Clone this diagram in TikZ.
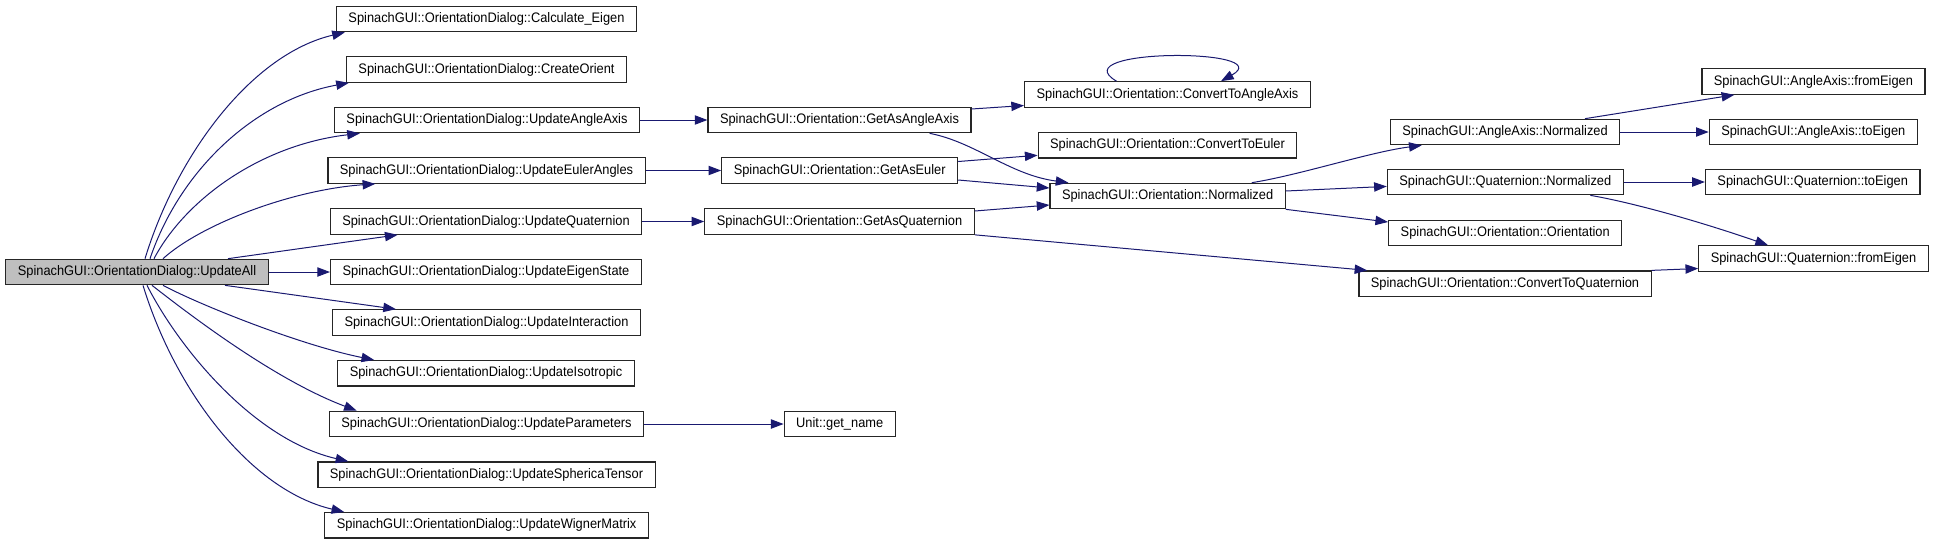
\documentclass[tikz,border=0pt]{standalone}
\usepackage{fontspec}
\setmainfont{Liberation Sans}[FakeStretch=0.93]
\usetikzlibrary{arrows.meta, calc}
\definecolor{edgeblue}{HTML}{191970}

\begin{document}
\begin{tikzpicture}[
        x=0.75pt, y=-0.75pt,
        % Estilos das caixas e setas
        funcbox/.style={rectangle, draw=black!85, line width=0.9pt, fill=white, inner xsep=9pt, inner ysep=0pt, minimum height=19.1pt, font=\fontsize{10.35}{11}\selectfont},
        rootbox/.style={funcbox, fill=black!25},
        callarrow/.style={-{Triangle[length=9.5pt, width=7pt]}, line width=0.75pt, draw=edgeblue}
    ]
    \useasboundingbox (0,0) rectangle (1933,544);

    % Raiz
    \node (updall) [rootbox] at (137,272) {SpinachGUI::OrientationDialog::UpdateAll};

    % Coluna 1: OrientationDialog
    \node (calc) [funcbox] at (486.5,19) {SpinachGUI::OrientationDialog::Calculate\_Eigen};
    \node (create) [funcbox] at (486.5,69.5) {SpinachGUI::OrientationDialog::CreateOrient};
    \node (angleaxis) [funcbox] at (487,120) {SpinachGUI::OrientationDialog::UpdateAngleAxis};
    \node (euler) [funcbox] at (486.5,170.5) {SpinachGUI::OrientationDialog::UpdateEulerAngles};
    \node (quat) [funcbox] at (486,221.5) {SpinachGUI::OrientationDialog::UpdateQuaternion};
    \node (eigenstate) [funcbox] at (486,272) {SpinachGUI::OrientationDialog::UpdateEigenState};
    \node (interaction) [funcbox] at (486.5,322.5) {SpinachGUI::OrientationDialog::UpdateInteraction};
    \node (isotropic) [funcbox] at (486,373.3) {SpinachGUI::OrientationDialog::UpdateIsotropic};
    \node (parameters) [funcbox] at (486.5,424) {SpinachGUI::OrientationDialog::UpdateParameters};
    \node (spherica) [funcbox] at (486.5,474.7) {SpinachGUI::OrientationDialog::UpdateSphericaTensor};
    \node (wigner) [funcbox] at (486.6,525.3) {SpinachGUI::OrientationDialog::UpdateWignerMatrix};

    % Coluna 2
    \node (getaa) [funcbox] at (839.5,120) {SpinachGUI::Orientation::GetAsAngleAxis};
    \node (geteuler) [funcbox] at (839.7,170.5) {SpinachGUI::Orientation::GetAsEuler};
    \node (getquat) [funcbox] at (839.5,221.5) {SpinachGUI::Orientation::GetAsQuaternion};
    \node (getname) [funcbox] at (839.7,424) {Unit::get\_name};

    % Coluna 3
    \node (convaa) [funcbox] at (1167.5,94.5) {SpinachGUI::Orientation::ConvertToAngleAxis};
    \node (conveuler) [funcbox] at (1167.5,145.3) {SpinachGUI::Orientation::ConvertToEuler};
    \node (onorm) [funcbox] at (1167.6,196) {SpinachGUI::Orientation::Normalized};

    % Coluna 4
    \node (aanorm) [funcbox] at (1505,132) {SpinachGUI::AngleAxis::Normalized};
    \node (qnorm) [funcbox] at (1505.3,182) {SpinachGUI::Quaternion::Normalized};
    \node (oorient) [funcbox] at (1505.2,233) {SpinachGUI::Orientation::Orientation};
    \node (convq) [funcbox] at (1505,283.7) {SpinachGUI::Orientation::ConvertToQuaternion};

    % Coluna 5
    \node (aafrom) [funcbox] at (1813.4,81.5) {SpinachGUI::AngleAxis::fromEigen};
    \node (aatoeigen) [funcbox] at (1813.3,132) {SpinachGUI::AngleAxis::toEigen};
    \node (qtoeigen) [funcbox] at (1812.7,182) {SpinachGUI::Quaternion::toEigen};
    \node (qfrom) [funcbox] at (1813.5,258.5) {SpinachGUI::Quaternion::fromEigen};

    % Setas a partir da raiz
    \draw [callarrow] ($(updall.north)+(8,0)$) .. controls (177,154) and (252,54) .. ($(calc.south west)+(9,0)$);
    \draw [callarrow] ($(updall.north)+(13,0)$) .. controls (180,170) and (255,100) .. ($(create.south west)+(3,0)$);
    \draw [callarrow] ($(updall.north)+(17,0)$) .. controls (185,200) and (260,145) .. ($(angleaxis.south west)+(26,0)$);
    \draw [callarrow] ($(updall.north)+(26,0)$) .. controls (200,225) and (290,190) .. ($(euler.south west)+(48,0)$);
    \draw [callarrow] ($(updall.north)+(91,0)$) -- ($(quat.south west)+(68,0)$);
    \draw [callarrow] (updall) -- (eigenstate);
    \draw [callarrow] ($(updall.south)+(88,0)$) -- ($(interaction.north west)+(64,0)$);
    \draw [callarrow] ($(updall.south)+(26,0)$) .. controls (200,305) and (300,345) .. ($(isotropic.north west)+(37,0)$);
    \draw [callarrow] ($(updall.south)+(15,0)$) .. controls (190,315) and (275,380) .. ($(parameters.north west)+(28,0)$);
    \draw [callarrow] ($(updall.south)+(10,0)$) .. controls (180,350) and (255,440) .. ($(spherica.north west)+(31,0)$);
    \draw [callarrow] ($(updall.south)+(6,0)$) .. controls (175,390) and (250,490) .. ($(wigner.north west)+(20,0)$);

    % Setas retas da coluna 1
    \draw [callarrow] (angleaxis) -- (getaa);
    \draw [callarrow] (euler) -- (geteuler);
    \draw [callarrow] (quat) -- (getquat);
    \draw [callarrow] (parameters) -- (getname);

    % Coluna 2 -> Coluna 3
    \draw [callarrow] ($(getaa.east)+(0,-11)$) -- ($(convaa.west)+(0,11)$);
    \draw [callarrow] ($(getaa.south east)+(-42,0)$) .. controls (975,142) and (1010,175) .. ($(onorm.north west)+(19,0)$);
    \draw [callarrow] ($(geteuler.east)+(0,-9)$) -- ($(conveuler.west)+(0,10)$);
    \draw [callarrow] ($(geteuler.east)+(0,9.5)$) -- ($(onorm.west)+(0,-8)$);
    \draw [callarrow] ($(getquat.east)+(0,-10.5)$) -- ($(onorm.west)+(0,9)$);
    \draw [callarrow] (getquat.south east) -- ($(convq.north west)+(9,0)$);

    % Chamada recursiva
    \draw [callarrow] ($(convaa.north)+(-51,0)$) .. controls (1060,48) and (1280,48) .. ($(convaa.north)+(53.5,0)$);

    % Coluna 3 -> Coluna 4
    \draw [callarrow] ($(onorm.north east)+(-34,0)$) .. controls (1300,175) and (1370,152) .. ($(aanorm.south west)+(32,0)$);
    \draw [callarrow] ($(onorm.east)+(0,-5)$) -- ($(qnorm.west)+(0,4.4)$);
    \draw [callarrow] (onorm.south east) -- ($(oorient.west)+(0,-11)$);

    % Coluna 4 -> Coluna 5
    \draw [callarrow] ($(aanorm.north)+(80,0)$) -- ($(aafrom.south west)+(33,0)$);
    \draw [callarrow] (aanorm) -- (aatoeigen);
    \draw [callarrow] (qnorm) -- (qtoeigen);
    \draw [callarrow] ($(qnorm.south)+(85,0)$) .. controls (1640,204) and (1710,225) .. ($(qfrom.north)+(-45.5,0)$);
    \draw [callarrow] (convq.north east) -- ($(qfrom.west)+(0,10)$);

\end{tikzpicture}
\end{document}
